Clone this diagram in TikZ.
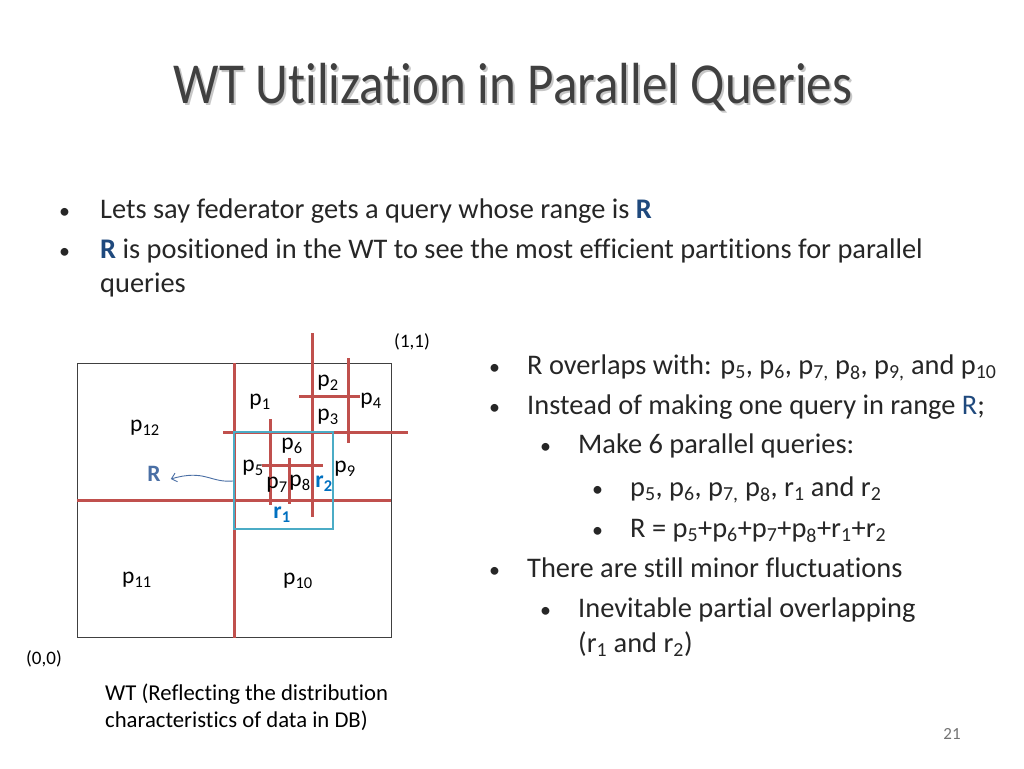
\documentclass[tikz,border=0pt]{standalone}
\usepackage{fontspec}
\setmainfont{Carlito}[Ligatures=NoCommon]
\usetikzlibrary{arrows.meta}
\definecolor{txt}{HTML}{262626}
\definecolor{ttl}{HTML}{404040}
\definecolor{redl}{HTML}{C0504D}
\definecolor{cyanl}{HTML}{4BACC6}
\definecolor{rblue}{HTML}{1F497D}
\definecolor{rlab}{HTML}{4A6FA5}
\definecolor{rsub}{HTML}{0070C0}
\newcommand\sbs[1]{\textsubscript{#1}}
\begin{document}
\begin{tikzpicture}[x=1pt,y=-1pt,
  body/.style={anchor=base west,inner sep=0pt,text=txt,font=\fontsize{28.4}{34}\selectfont},
  bul/.style={anchor=base west,inner sep=0pt,text=txt,font=\fontsize{22}{26}\selectfont},
  plab/.style={inner sep=0pt,text=black,font=\fontsize{23.5}{26}\selectfont},
  small/.style={inner sep=0pt,text=black,font=\fontsize{19}{22}\selectfont},
  redline/.style={draw=redl,line width=3pt},
  bluebox/.style={draw=cyanl,line width=2.5pt},
]
\useasboundingbox (0,0) rectangle (1024,768);
\fill[white] (0,0) rectangle (1024,768);
% title
\node[anchor=base,inner sep=0pt,xscale=0.88,text=black!22,font=\fontsize{58}{66}\selectfont] (titleshadow) at (515,105) {WT Utilization in Parallel Queries};
\node[anchor=base,inner sep=0pt,xscale=0.88,text=ttl,font=\fontsize{58}{66}\selectfont] (title) at (513,103) {WT Utilization in Parallel Queries};
% left bullets
\node[bul] (b1) at (59,218) {•};
\node[body] (t1) at (100,218) {Lets say federator gets a query whose range is \textbf{\color{rblue}R}};
\node[bul] (b2) at (59,258) {•};
\node[body] (t2) at (100,258) {\textbf{\color{rblue}R} is positioned in the WT to see the most efficient partitions for parallel};
\node[body] (t3) at (100,292) {queries};
% right bullets
\node[bul] (rb1) at (489,374) {•};
\node[body] (rt1) at (527,374) {R overlaps with: p\sbs{5}, p\sbs{6}, p\sbs{7,} p\sbs{8}, p\sbs{9,} and p\sbs{10}};
\node[bul] (rb2) at (489,414) {•};
\node[body] (rt2) at (527,414) {Instead of making one query in range {\color{rblue}R};};
\node[bul] (rb3) at (540,453) {•};
\node[body] (rt3) at (578,453) {Make 6 parallel queries:};
\node[bul] (rb4) at (592,496) {•};
\node[body] (rt4) at (630,496) {p\sbs{5}, p\sbs{6}, p\sbs{7,} p\sbs{8}, r\sbs{1} and r\sbs{2}};
\node[bul] (rb5) at (592,537) {•};
\node[body] (rt5) at (630,537) {R = p\sbs{5}+p\sbs{6}+p\sbs{7}+p\sbs{8}+r\sbs{1}+r\sbs{2}};
\node[bul] (rb6) at (489,577) {•};
\node[body] (rt6) at (527,577) {There are still minor fluctuations};
\node[bul] (rb7) at (540,617) {•};
\node[body] (rt7) at (578,617) {Inevitable partial overlapping};
\node[body] (rt8) at (578,652) {(r\sbs{1} and r\sbs{2})};
% diagram
\draw[ttl,line width=1pt] (77,363) rectangle (391,637);
\draw[redline] (234,363) -- (234,638);
\draw[redline] (77,500) -- (391,500);
\draw[redline] (312,333) -- (312,517);
\draw[redline] (223,432) -- (408,432);
\draw[redline] (348,358) -- (348,443);
\draw[redline] (299,396) -- (360,396);
\draw[redline] (270,419) -- (270,505);
\draw[redline] (262,465) -- (323,465);
\draw[redline] (289,458) -- (289,504);
\draw[bluebox] (234,432) rectangle (333,529);
\node[plab] (p12) at (145,428) {p\sbs{12}};
\node[plab] (p1) at (260,402) {p\sbs{1}};
\node[plab] (p2) at (328,383) {p\sbs{2}};
\node[plab] (p4) at (371,401) {p\sbs{4}};
\node[plab] (p3) at (328,417) {p\sbs{3}};
\node[plab] (p6) at (292,446) {p\sbs{6}};
\node[plab] (p5) at (253,468) {p\sbs{5}};
\node[plab] (p9) at (345,469) {p\sbs{9}};
\node[plab] (p7) at (277,485) {p\sbs{7}};
\node[plab] (p8) at (300,483) {p\sbs{8}};
\node[plab,text=rsub,font=\bfseries\fontsize{23.5}{26}\selectfont] (r2) at (324,484) {r\sbs{2}};
\node[plab,text=rsub,font=\bfseries\fontsize{23.5}{26}\selectfont] (r1) at (282,515) {r\sbs{1}};
\node[plab] (p11) at (137,580) {p\sbs{11}};
\node[plab] (p10) at (298,581) {p\sbs{10}};
\node[plab,text=rlab,font=\bfseries\fontsize{23.5}{26}\selectfont] (R) at (154,474) {R};
\coordinate (Rsrc) at (233,481);
\draw[rlab,line width=0.9pt,-{Straight Barb[length=5pt,width=9pt]}] (Rsrc) .. controls (210,483) and (205,469) .. ([xshift=10pt,yshift=-5pt]R.east);
\node[small] (c11) at (412,342) {(1,1)};
\node[small] (c00) at (44,659) {(0,0)};
\node[anchor=base west,inner sep=0pt,text=black,font=\fontsize{22.7}{27}\selectfont,align=left] (cap) at (105,727) {WT (Reflecting the distribution\\characteristics of data in DB)};
\node[inner sep=0pt,text=black!55,font=\fontsize{17}{20}\selectfont] (pg) at (952,734) {21};
\end{tikzpicture}
\end{document}
